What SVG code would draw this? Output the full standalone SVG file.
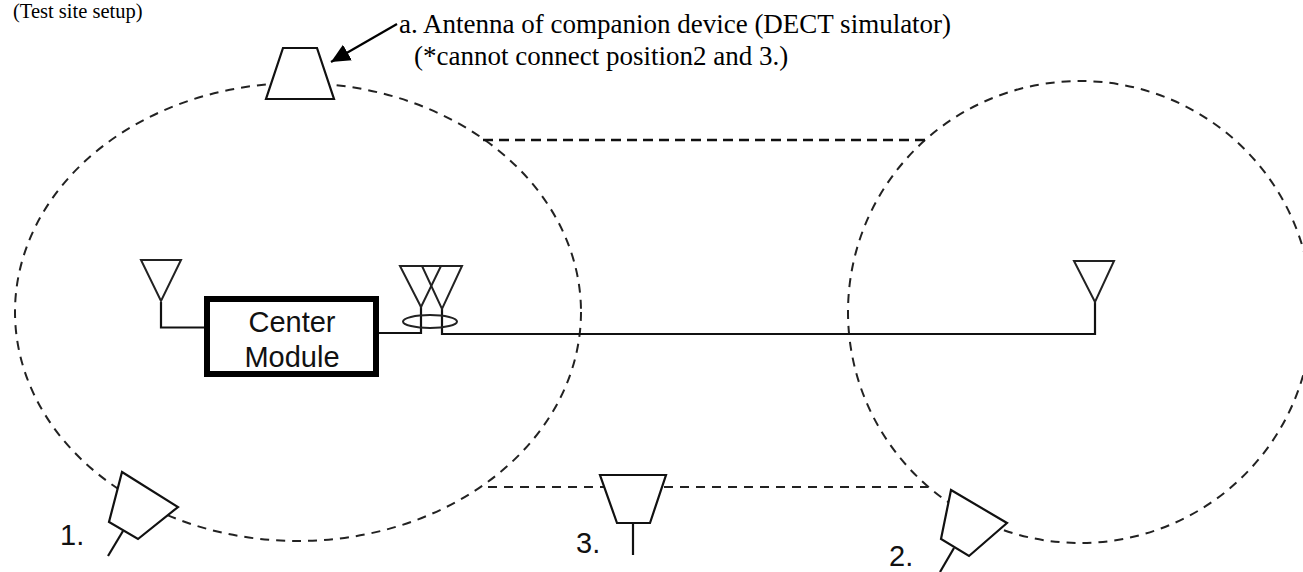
<svg xmlns="http://www.w3.org/2000/svg" width="1303" height="572" viewBox="0 0 1303 572">
<style>
.dash{fill:none;stroke:#222;stroke-width:2;stroke-dasharray:9 7}
.ln{fill:none;stroke:#111;stroke-width:2.2}
.ant{fill:#fff;stroke:#111;stroke-width:2.2}
.tri{fill:none;stroke:#222;stroke-width:2}
.arial{font-family:"Liberation Sans",Arial,sans-serif;fill:#111;font-size:29px}
.times{font-family:"Liberation Serif","Times New Roman",serif;fill:#000}
</style>
<defs><marker id="ah" markerUnits="userSpaceOnUse" markerWidth="20" markerHeight="20" refX="19" refY="10" orient="auto"><path d="M0 1L19 10L0 19Z" fill="#000"/></marker></defs>
<g id="connectors">
<ellipse id="zone-1" class="dash" cx="298" cy="312" rx="283" ry="229"/>
<ellipse id="zone-2" class="dash" cx="1080" cy="312" rx="232" ry="231"/>
<path d="M483 140H930" fill="none" stroke="#111" stroke-width="2.6" stroke-dasharray="10 6"/>
<path d="M488 487H928" class="dash"/>
<path class="ln" d="M161 302V327.500H206"/>
<path class="ln" d="M377 333H421V306"/>
<path class="ln" d="M442 309V334H1095V302"/>
<path d="M397 24L331 62" fill="none" stroke="#000" stroke-width="2.2" marker-end="url(#ah)"/>
</g>
<g id="antenna-a"><path class="ant" d="M283 48H317L334 99H266Z"/></g>
<g id="antenna-left"><path class="tri" d="M141 260H181L161 301Z"/></g>
<g id="antenna-mid-1"><path class="tri" d="M400 266H441L421 307Z"/></g>
<g id="antenna-mid-2"><path class="tri" d="M422 266H462L442 309Z"/></g>
<ellipse cx="430" cy="321.500" rx="27" ry="6.500" fill="none" stroke="#222" stroke-width="2"/>
<g id="antenna-right"><path class="tri" d="M1074 261H1114L1095 302Z"/></g>
<g id="center-module">
<rect x="207" y="299" width="169" height="75" fill="#fff" stroke="#000" stroke-width="6"/>
<text class="arial" x="292" y="332" text-anchor="middle">Center</text>
<text class="arial" x="292" y="367" text-anchor="middle">Module</text>
</g>
<g id="position-1"><path class="ant" d="M122 472L178 507L138 539L109 522Z"/><path class="ln" d="M123 531L108 556"/><text class="arial" x="60" y="545">1.</text></g>
<g id="position-3"><path class="ant" d="M600 475H666L650 523H617Z"/><path class="ln" d="M633 523V555"/><text class="arial" x="576" y="553">3.</text></g>
<g id="position-2"><path class="ant" d="M951 490L1007 523L969 556L941 539Z"/><path class="ln" d="M954 548L940 572"/><text class="arial" x="889" y="566">2.</text></g>
<text class="times" x="13" y="18" font-size="20.500">(Test site setup)</text>
<text class="times" x="399" y="33" font-size="27">a. Antenna of companion device (DECT simulator)</text>
<text class="times" x="414" y="65" font-size="27">(*cannot connect position2 and 3.)</text>
</svg>
